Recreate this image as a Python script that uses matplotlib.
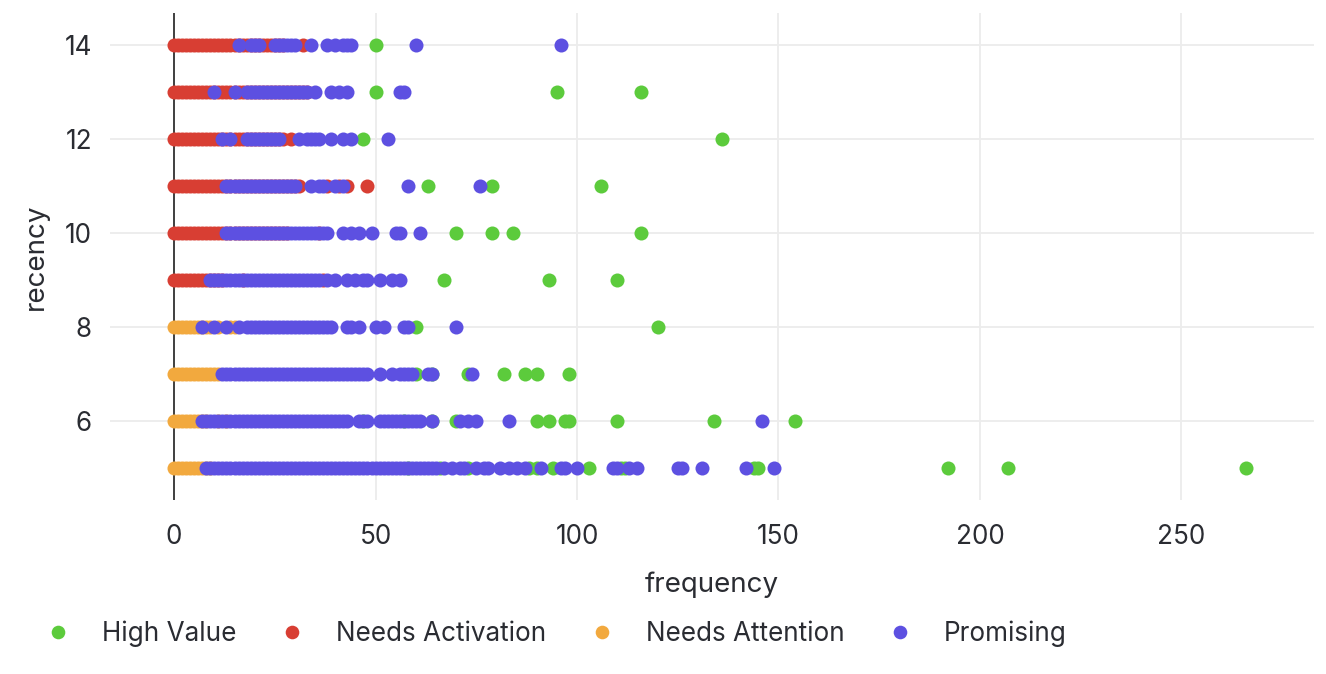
import matplotlib
matplotlib.use("Agg")
import matplotlib.pyplot as plt
from matplotlib.lines import Line2D

plt.rcParams['font.family'] = ['Inter', 'DejaVu Sans']

# one list per recency row, top to bottom
recency_rows = [14, 13, 12, 11, 10, 9, 8, 7, 6, 5]

high_value = [
    [50],
    [50, 95, 116],
    [47, 136],
    [63, 79, 106],
    [70, 79, 84, 116],
    [67, 93, 110],
    [60, 120],
    [60, 64, 73, 82, 87, 90, 98],
    [47, 57, 64, 70, 90, 93, 97, 98, 110, 134, 154],
    [58, 66, 73, 88, 90, 94, 103, 111, 112, 144, 145, 192, 207, 266],
]
needs_activation = [
    [0, 1, 2, 3, 4, 5, 6, 7, 8, 9, 10, 11, 12, 13, 14, 15, 16, 17, 18, 19, 20, 21, 22, 23, 24, 25, 26, 27, 32],
    [0, 1, 2, 3, 4, 5, 6, 7, 8, 9, 10, 11, 12, 13, 14, 15, 16, 17, 18, 19, 20, 21, 22, 23, 24, 25, 26, 27, 28, 29, 30, 31, 32, 33],
    [0, 1, 2, 3, 4, 5, 6, 7, 8, 9, 10, 11, 12, 13, 14, 15, 16, 17, 18, 19, 20, 21, 22, 23, 24, 25, 26, 27, 29],
    [0, 1, 2, 3, 4, 5, 6, 7, 8, 9, 10, 11, 12, 13, 14, 15, 16, 17, 18, 19, 20, 21, 22, 23, 24, 25, 26, 27, 28, 29, 30, 31, 38, 41, 43, 48],
    [0, 1, 2, 3, 4, 5, 6, 7, 8, 9, 10, 11, 12, 13, 14, 15, 16, 17, 18, 19, 20, 21, 22, 23, 24, 25, 26, 27, 28, 36],
    [0, 1, 2, 3, 4, 5, 6, 7, 8, 9, 10, 11, 12, 17, 37],
    [],
    [],
    [],
    [],
]
needs_attention = [
    [],
    [],
    [],
    [],
    [],
    [],
    [0, 1, 2, 3, 4, 5, 6, 7, 8, 9, 11, 14, 15],
    [0, 1, 2, 3, 4, 5, 6, 7, 8, 9, 10, 11],
    [0, 1, 2, 3, 4, 5, 6, 7, 8, 11, 13],
    [0, 1, 2, 3, 4, 5, 6, 7, 8, 9],
]
promising = [
    [16, 19, 20, 21, 25, 26, 27, 28, 29, 30, 34, 38, 40, 42, 43, 44, 60, 96],
    [10, 15, 18, 19, 20, 21, 22, 23, 24, 25, 26, 27, 28, 29, 30, 31, 32, 33, 35, 39, 41, 43, 56, 57],
    [12, 14, 18, 19, 20, 21, 22, 23, 24, 25, 26, 31, 33, 34, 35, 36, 39, 42, 44, 53],
    [13, 14, 15, 16, 17, 18, 19, 20, 21, 22, 23, 24, 25, 26, 27, 28, 29, 30, 34, 36, 37, 40, 42, 58, 76],
    [13, 14, 15, 16, 17, 18, 19, 20, 21, 22, 23, 24, 25, 26, 27, 28, 29, 30, 31, 32, 33, 34, 35, 36, 37, 38, 42, 44, 46, 49, 55, 56, 61],
    [9, 10, 11, 12, 13, 14, 15, 16, 17, 18, 19, 20, 21, 22, 23, 24, 25, 26, 27, 28, 29, 30, 31, 32, 33, 34, 35, 36, 38, 40, 43, 45, 47, 48, 51, 54, 56],
    [7, 10, 13, 16, 18, 19, 20, 21, 22, 23, 24, 25, 26, 27, 28, 29, 30, 31, 32, 33, 34, 35, 36, 37, 38, 39, 43, 44, 46, 50, 52, 57, 58, 70],
    [12, 13, 14, 15, 16, 17, 18, 19, 20, 21, 22, 23, 24, 25, 26, 27, 28, 29, 30, 31, 32, 33, 34, 35, 36, 37, 38, 39, 40, 41, 42, 43, 44, 45, 46, 47, 48, 51, 54, 56, 57, 58, 59, 63, 64, 74],
    [7, 8, 9, 10, 11, 12, 13, 14, 15, 16, 17, 18, 19, 20, 21, 22, 23, 24, 25, 26, 27, 28, 29, 30, 31, 32, 33, 34, 35, 36, 37, 38, 39, 40, 41, 42, 43, 46, 47, 48, 51, 52, 53, 54, 55, 56, 57, 58, 59, 60, 61, 64, 71, 73, 75, 83, 146],
    [8, 9, 10, 11, 12, 13, 14, 15, 16, 17, 18, 19, 20, 21, 22, 23, 24, 25, 26, 27, 28, 29, 30, 31, 32, 33, 34, 35, 36, 37, 38, 39, 40, 41, 42, 43, 44, 45, 46, 47, 48, 49, 50, 51, 52, 53, 54, 55, 56, 57, 58, 59, 60, 61, 62, 63, 64, 65, 67, 69, 71, 72, 75, 77, 78, 81, 83, 85, 87, 91, 96, 97, 100, 109, 110, 113, 115, 125, 126, 131, 142, 149],
]

series_names = ['High Value', 'Needs Activation', 'Needs Attention', 'Promising']
series_values = [high_value, needs_activation, needs_attention, promising]
series_colors = ['#5ccb3c', '#d83e33', '#f2a93e', '#5d50e1']

x_ticks = [0, 50, 100, 150, 200, 250]
y_ticks = [6, 8, 10, 12, 14]

text_color = '#2a2c32'
grid_color = '#ececec'

fig = plt.figure(figsize=(13.26, 6.74), dpi=100)
ax = fig.add_axes([110 / 1326, 1 - 500 / 674, 1204 / 1326, 487 / 674])

for name, rows, color in zip(series_names, series_values, series_colors):
    xs = []
    ys = []
    for recency, freqs in zip(recency_rows, rows):
        xs += freqs
        ys += [recency] * len(freqs)
    ax.scatter(xs, ys, s=102, color=color, linewidths=0, zorder=3, label=name, clip_on=False)

ax.axvline(0, color='#404040', lw=1.4, zorder=2)
ax.set_xlim(-15.9, 282.9)
ax.set_ylim(4.32, 14.68)
ax.set_xticks(x_ticks)
ax.set_yticks(y_ticks)
ax.grid(True, color=grid_color, lw=1.3, zorder=0)
ax.set_axisbelow(True)
ax.tick_params(length=0, labelsize=18.8, labelcolor=text_color)
ax.tick_params(axis='x', pad=17.5)
ax.tick_params(axis='y', pad=13)
for s in ax.spines.values():
    s.set_visible(False)

ax.set_xlabel('frequency', fontsize=20, color=text_color, labelpad=15.5)
ax.set_ylabel('recency', fontsize=20, color=text_color, labelpad=11.5)

handles = [Line2D([], [], ls='', marker='o', ms=9.8, mew=0, color=c) for c in series_colors]
fig.legend(handles, series_names, loc='center left', bbox_to_anchor=(32 / 1326, 1 - 634 / 674), ncols=4,
           frameon=False, fontsize=18.8, labelcolor=text_color, handlelength=2.0,
           handletextpad=0.70, columnspacing=1.11, borderpad=0, borderaxespad=0)

fig.savefig('out.png', dpi=100)
